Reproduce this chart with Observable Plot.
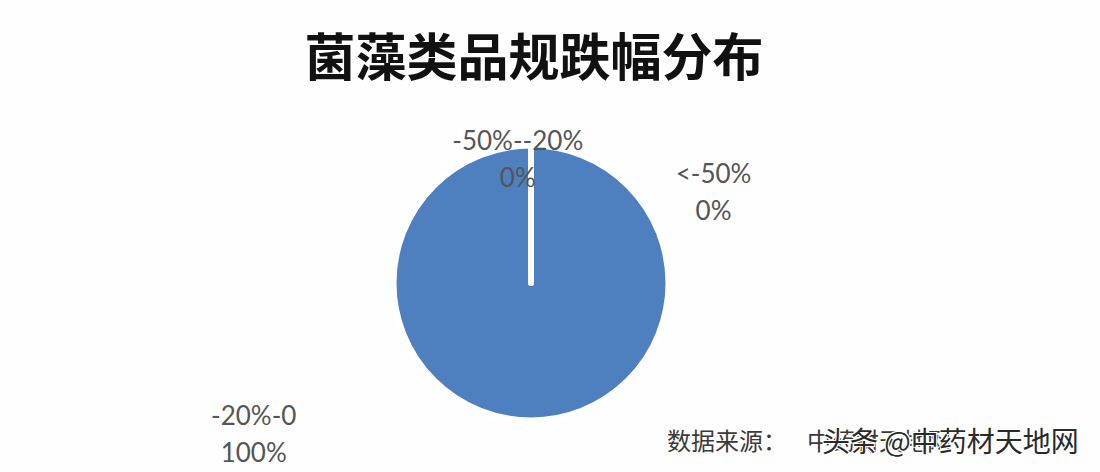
<!DOCTYPE html>
<html>
<head>
<meta charset="utf-8">
<script src="https://cdn.jsdelivr.net/npm/d3@7"></script>
<script src="https://cdn.jsdelivr.net/npm/@observablehq/plot@0.6"></script>
<style>
  html, body { margin: 0; padding: 0; background: #ffffff; }
  #wrap { position: relative; width: 1100px; height: 472px; overflow: hidden; background: #fefefe; }
  #title { position: absolute; left: 0; top: 24px; width: 1068px; text-align: center;
           font-family: "Noto Sans CJK SC", sans-serif; font-weight: 700; font-size: 51px;
           line-height: 60px; color: #111111; }
  #chart { position: absolute; left: 0; top: 100px; }
  #source { position: absolute; left: 667px; top: 425px; font-family: "Noto Sans CJK SC", sans-serif;
            font-size: 24px; line-height: 30px; color: #3a3a3a; white-space: pre; }
  #source span { margin-left: 20px; }
  #mark { position: absolute; left: 822px; top: 423px; font-family: "Noto Sans CJK SC", sans-serif;
          font-size: 28px; line-height: 34px; color: #2a2a2a; white-space: pre;
          text-shadow: 1px 1px 0 #fff, -1px -1px 0 #fff, 1px -1px 0 #fff, -1px 1px 0 #fff; }
</style>
</head>
<body>
<div id="wrap">
  <div id="title"></div>
  <div id="chart"></div>
  <div id="source"></div>
  <div id="mark"></div>
</div>
<script>
// ---- data ----
const titleText = "菌藻类品规跌幅分布";
const categories = ["<-50%", "-50%--20%", "-20%-0"];
const values = [0, 0, 100];
const colors = ["#4e7fbe", "#4e7fbe", "#4e7fbe"];
const sourceLabel = "数据来源：";
const sourceName = "中药材天地网";
const watermarkText = "头条 @中药材天地网";

// ---- label layout (in pie-radius units, relative to the pie centre) ----
const labelLayout = [
  {lx: 1.324, ly: 0.68},
  {lx: -0.10, ly: 0.92},
  {lx: -2.02, ly: -1.08}
];

document.getElementById("title").textContent = titleText;
const src = document.getElementById("source");
src.textContent = sourceLabel;
const srcSpan = document.createElement("span");
srcSpan.textContent = sourceName;
src.appendChild(srcSpan);
document.getElementById("mark").textContent = watermarkText;

const total = d3.sum(values);
const table = categories.map((c, i) => ({
  category: c,
  value: values[i],
  label: c + "\n" + d3.format(".0%")(values[i] / total),
  lx: labelLayout[i].lx,
  ly: labelLayout[i].ly
}));

const W = 1100, H = 372;
const cx = 531, cy = 183, R = 137.5;

const color = Plot.scale({color: {domain: categories, range: colors}});

function pieMark(index, scales) {
  const x0 = scales.x(0), y0 = scales.y(0);
  const r = Math.abs(scales.x(1) - scales.x(0));
  const arcs = d3.pie().sort(null).value(d => d.value)(table);
  const arc = d3.arc().innerRadius(0).outerRadius(r);
  const g = d3.create("svg:g").attr("transform", `translate(${x0},${y0})`);
  g.selectAll("path.fill").data(arcs).join("path")
    .attr("d", arc).attr("fill", d => color.apply(d.data.category)).attr("stroke", "none");
  g.selectAll("path.border").data(arcs).join("path")
    .attr("d", arc).attr("fill", "none").attr("stroke", "#ffffff")
    .attr("stroke-width", 6).attr("stroke-linejoin", "round");
  return g.node();
}

const chart = Plot.plot({
  width: W,
  height: H,
  margin: 0,
  x: {domain: [-1, 1], range: [cx - R, cx + R], axis: null},
  y: {domain: [-1, 1], range: [cy + R, cy - R], axis: null},
  style: {background: "transparent", overflow: "visible"},
  marks: [
    pieMark,
    Plot.text(table, {
      x: "lx", y: "ly", text: "label",
      fontSize: 26, fill: "#555555",
      fontFamily: "Lato, 'Open Sans', sans-serif",
      lineHeight: 1.42, lineAnchor: "middle", textAnchor: "middle"
    })
  ]
});
document.getElementById("chart").appendChild(chart);
</script>
</body>
</html>
